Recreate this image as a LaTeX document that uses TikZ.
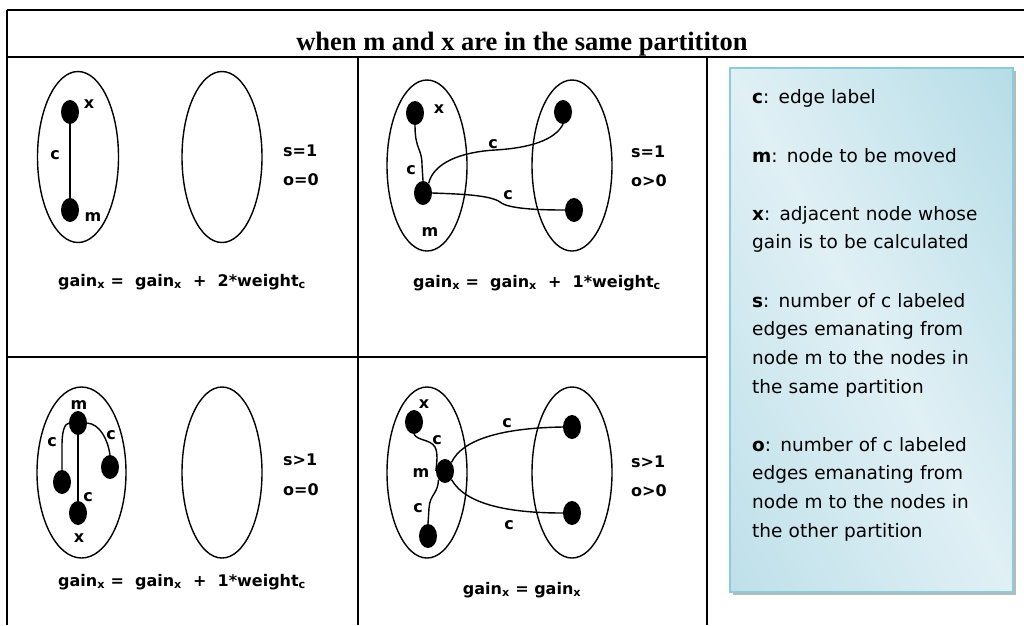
\documentclass[tikz,border=0pt]{standalone}
\usepackage{fontspec}
\setmainfont{DejaVu Sans}
\newfontfamily\titlefont{Liberation Serif}
\usetikzlibrary{shapes.geometric}
\definecolor{paneldark}{HTML}{8CC9D9}
\definecolor{panelmid}{HTML}{E0F0F5}
\definecolor{panelleft}{HTML}{9CCFDE}
\definecolor{panelborder}{HTML}{8CCBDA}
\tikzset{
  grid/.style={line width=2pt},
  part/.style={line width=1.4pt},
  vtx/.style={ellipse, fill=black, minimum width=18pt, minimum height=24pt, inner sep=0pt},
  edg/.style={line width=1.4pt},
  lbl/.style={font=\fontsize{16}{18}\selectfont\bfseries, inner sep=0pt},
  formula/.style={font=\fontsize{16}{18}\selectfont\bfseries, inner sep=0pt},
  legend/.style={font=\fontsize{18.5}{28.8}\selectfont, align=left, anchor=base west, inner sep=0pt, text width=270pt}
}
\begin{document}
\begin{tikzpicture}[x=1pt,y=-1pt]
\useasboundingbox (0,0) rectangle (1024,625);
% frame
\draw[grid] (7,10) -- (1024,10);
\draw[grid] (7,57) -- (1024,57);
\draw[grid] (7,10) -- (7,625);
\draw[grid] (358,57) -- (358,625);
\draw[grid] (707,57) -- (707,625);
\draw[grid] (7,357) -- (707,357);
\node[font=\titlefont\fontsize{26.5}{30}\selectfont\bfseries, anchor=base, inner sep=0pt] (title) at (522,50) {when m and x are in the same partititon};

% ---------- cell 1 ----------
\draw[part] (78,157) ellipse [x radius=40.5, y radius=85.5];
\draw[part] (222,157) ellipse [x radius=40, y radius=85.5];
\node[vtx] (x1) at (70,112) {};
\node[vtx] (m1) at (70,210) {};
\draw[edg] (x1) -- (m1);
\node[lbl] (c1) at (55,155) {c};
\node[lbl] (lx1) at (89,104) {x};
\node[lbl] (lm1) at (93,217) {m};
\node[lbl, anchor=west] (s1) at (283,151) {s=1};
\node[lbl, anchor=west] (o1) at (283,180) {o=0};
\node[formula] (f1) at (182,282) {gain\textsubscript{x} =\ \ gain\textsubscript{x}\ \ +\ \ 2*weight\textsubscript{c}};

% ---------- cell 2 ----------
\draw[part] (427,165.5) ellipse [x radius=40, y radius=85.5];
\draw[part] (572,165.5) ellipse [x radius=40, y radius=85.5];
\node[vtx] (x2) at (415,113) {};
\node[vtx] (m2) at (423,193) {};
\node[vtx] (ra2) at (563,112) {};
\node[vtx] (rb2) at (574,210) {};
\draw[edg] (x2.south) .. controls (415,150) and (422,148) .. (422,165) -- (m2.north);
\draw[edg] (m2.60) .. controls (434,162) and (462,152) .. (495,150) .. controls (530,148) and (555,140) .. (ra2.south);
\draw[edg] (m2.east) .. controls (460,194) and (490,195) .. (500,202) .. controls (508,209) and (540,210) .. (rb2.west);
\node[lbl] (lx2) at (439,109) {x};
\node[lbl] (c2a) at (411,170) {c};
\node[lbl] (lm2) at (430,232) {m};
\node[lbl] (c2b) at (493,144) {c};
\node[lbl] (c2c) at (508,195) {c};
\node[lbl, anchor=west] (s2) at (631,152) {s=1};
\node[lbl, anchor=west] (o2) at (631,181) {o>0};
\node[formula] (f2) at (537,283) {gain\textsubscript{x} =\ \ gain\textsubscript{x}\ \ +\ \ 1*weight\textsubscript{c}};

% ---------- cell 3 ----------
\draw[part] (81.5,472.5) ellipse [x radius=44.5, y radius=85.5];
\draw[part] (222,472.5) ellipse [x radius=40, y radius=85.5];
\node[vtx] (m3) at (78,423) {};
\node[vtx] (l3) at (62,482) {};
\node[vtx] (r3) at (110,467) {};
\node[vtx] (x3) at (78,513) {};
\draw[edg] (m3.west) .. controls (64,424) and (62,433) .. (62,445) -- (l3.north);
\draw[edg] (m3.east) .. controls (100,424) and (108,440) .. (r3.north);
\draw[edg] (m3) -- (x3);
\node[lbl] (lm3) at (79,405) {m};
\node[lbl] (c3a) at (52,442) {c};
\node[lbl] (c3b) at (111,435) {c};
\node[lbl] (c3c) at (88,497) {c};
\node[lbl] (lx3) at (79,538) {x};
\node[lbl, anchor=west] (s3) at (283,460) {s>1};
\node[lbl, anchor=west] (o3) at (283,490) {o=0};
\node[formula] (f3) at (182,582) {gain\textsubscript{x} =\ \ gain\textsubscript{x}\ \ +\ \ 1*weight\textsubscript{c}};

% ---------- cell 4 ----------
\draw[part] (427,472.5) ellipse [x radius=40, y radius=85.5];
\draw[part] (572,472.5) ellipse [x radius=40, y radius=85.5];
\node[vtx] (x4) at (414,422) {};
\node[vtx] (m4) at (445,471) {};
\node[vtx] (b4) at (428,536) {};
\node[vtx] (ra4) at (572,427) {};
\node[vtx] (rb4) at (572,513) {};
\draw[edg] (x4.south) .. controls (418,441) and (430,439) .. (435,447) .. controls (438,453) and (437,462) .. (m4.west);
\draw[edg] (m4.south west) .. controls (438,494) and (430,494) .. (429,508) -- (b4.north);
\draw[edg] (m4.north east) .. controls (462,440) and (500,428) .. (ra4.west);
\draw[edg] (m4.south east) .. controls (466,505) and (510,513) .. (rb4.west);
\node[lbl] (lx4) at (424,404) {x};
\node[lbl] (c4a) at (437,440) {c};
\node[lbl] (lm4) at (421,473) {m};
\node[lbl] (c4b) at (418,508) {c};
\node[lbl] (c4c) at (507,423) {c};
\node[lbl] (c4d) at (509,525) {c};
\node[lbl, anchor=west] (s4) at (631,462) {s>1};
\node[lbl, anchor=west] (o4) at (631,491) {o>0};
\node[formula] (f4) at (522,590) {gain\textsubscript{x} = gain\textsubscript{x}};

% ---------- legend panel ----------
\fill[gray!55] (733,71) rectangle (1016,595);
\begin{scope}
  \clip (730,68) rectangle (1013,592);
  \shade[transform canvas={rotate around={28.4:(871.5,330)}}, left color=panelleft, right color=paneldark, middle color=panelmid]
    (373.5,-168) rectangle (1369.5,828);
\end{scope}
\draw[panelborder, line width=1.5pt] (730,68) rectangle (1013,592);
\node[legend] (p1) at (752,103) {\textbf{c}: edge label};
\node[legend] (p2) at (752,162) {\textbf{m}: node to be moved};
\node[legend] (p3) at (752,220) {\textbf{x}: adjacent node whose\\gain is to be calculated};
\node[legend] (p4) at (752,307) {\textbf{s}: number of c labeled\\edges emanating from\\node m to the nodes in\\the same partition};
\node[legend] (p5) at (752,451) {\textbf{o}: number of c labeled\\edges emanating from\\node m to the nodes in\\the other partition};
\end{tikzpicture}
\end{document}
